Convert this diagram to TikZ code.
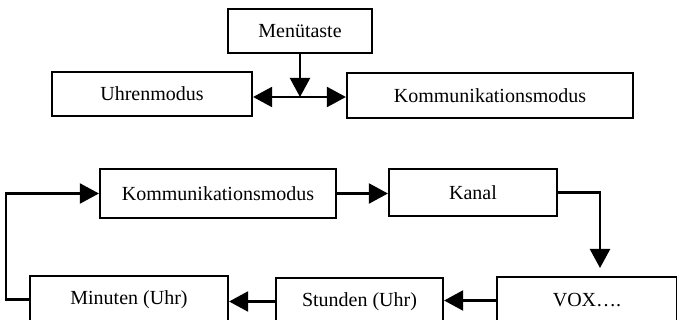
\documentclass[tikz,border=0pt]{standalone}
\usepackage{fontspec}
\setmainfont{Liberation Serif}
\usetikzlibrary{arrows.meta}
\begin{document}
\begin{tikzpicture}[x=1pt,y=-1pt,
  box/.style={draw=black,line width=2.2pt,fill=white,inner sep=0pt,
    font=\fontsize{20}{24}\selectfont},
  arr/.style={draw=black,line width=2.2pt,-{Triangle[length=19pt,width=20pt]}},
  ln/.style={draw=black,line width=2.2pt}]
\useasboundingbox (0,0) rectangle (677,320);
\clip (0,0) rectangle (677,320);
% top part
\node[box,minimum width=144pt,minimum height=44pt] (menu) at (300,31) {Menütaste};
\node[box,minimum width=200pt,minimum height=44pt] (uhr) at (152,94) {Uhrenmodus};
\node[box,minimum width=286pt,minimum height=45pt] (komm1) at (490,95.5) {Kommunikationsmodus};
\coordinate (j) at (300,97);
\draw[arr] (menu.south) -- (j);
\draw[arr] (j) -- (j -| uhr.east);
\draw[arr] (j) -- (j -| komm1.west);
% bottom part
\node[box,minimum width=236pt,minimum height=49pt] (komm2) at (218,193.5) {Kommunikationsmodus};
\node[box,minimum width=168pt,minimum height=47pt] (kanal) at (473,192.5) {Kanal};
\node[box,minimum width=180pt,minimum height=47pt] (vox) at (587,300.5) {VOX….};
\node[box,minimum width=167pt,minimum height=47pt] (stunden) at (359.5,301.5) {Stunden (Uhr)};
\node[box,minimum width=198pt,minimum height=47pt] (minuten) at (129,299.5) {Minuten (Uhr)};
\coordinate (tipv) at (600,268);
\draw[arr] (komm2.east) -- (komm2.east -| kanal.west);
\draw[arr] (kanal.east) -| (tipv);
\draw[arr] (vox.west) -- (vox.west -| stunden.east);
\draw[arr] (stunden.west) -- (stunden.west -| minuten.east);
\draw[arr] (minuten.west) -- ++(-23,0) |- (komm2.west);
\end{tikzpicture}
\end{document}
